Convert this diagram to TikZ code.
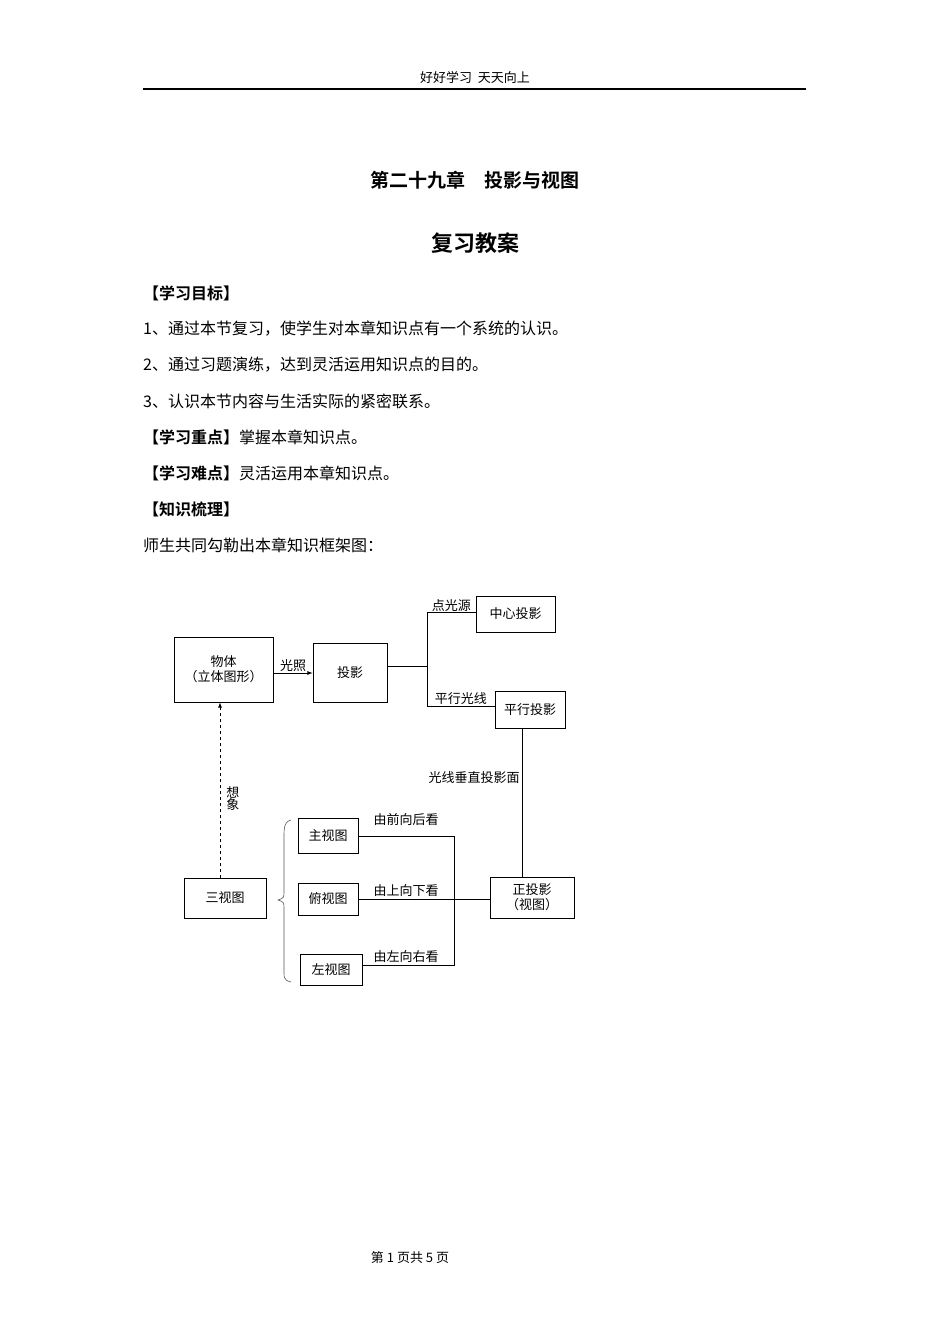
\documentclass[tikz,border=0pt]{standalone}
\usepackage{fontspec}
\setmainfont{Noto Sans CJK SC}
\newfontfamily\cjkb{Noto Sans CJK SC Bold}
\begin{document}
\begin{tikzpicture}[x=1pt,y=-1pt,
  bx/.style={draw,line width=0.8pt,inner sep=0pt},
  dt/.style={font=\fontsize{13}{15}\selectfont},
  ln/.style={line width=0.8pt},
  body/.style={anchor=west,font=\fontsize{16}{18}\selectfont,inner sep=0pt}]
\useasboundingbox[fill=white] (0,0) rectangle (950,1344);
\node[font=\fontsize{13}{15}\selectfont] (hd) at (475,78) {好好学习\ \ 天天向上};
\draw[line width=1.2pt] (143,89) coordinate (h1) -- (806,89) coordinate (h2);
\node[font=\cjkb\fontsize{19}{21}\selectfont] (t1) at (475,180) {第二十九章\quad 投影与视图};
\node[font=\cjkb\fontsize{22}{24}\selectfont] (t2) at (475,243) {复习教案};
\node[body,font=\cjkb\fontsize{16}{18}\selectfont] (l1) at (143,293) {【学习目标】};
\node[body] (l2) at (143,329) {1、通过本节复习，使学生对本章知识点有一个系统的认识。};
\node[body] (l3) at (143,365) {2、通过习题演练，达到灵活运用知识点的目的。};
\node[body] (l4) at (143,401) {3、认识本节内容与生活实际的紧密联系。};
\node[body] (l5) at (143,437) {{\cjkb 【学习重点】}掌握本章知识点。};
\node[body] (l6) at (143,473) {{\cjkb 【学习难点】}灵活运用本章知识点。};
\node[body,font=\cjkb\fontsize{16}{18}\selectfont] (l7) at (143,509) {【知识梳理】};
\node[body] (l8) at (143,545) {师生共同勾勒出本章知识框架图：};
% diagram
\node[bx,dt,minimum width=99pt,minimum height=65pt,align=center] (wt) at (223.5,669.5) {物体\\（立体图形）};
\node[bx,dt,minimum width=74pt,minimum height=59pt] (ty) at (350,672.5) {投影};
\node[bx,dt,minimum width=79pt,minimum height=36pt] (zx) at (515.5,614) {中心投影};
\node[bx,dt,minimum width=70pt,minimum height=37pt] (px) at (530,709.5) {\raisebox{-6pt}{平行投影}};
\node[bx,dt,minimum width=84pt,minimum height=41pt,align=center] (zt) at (532,897.5) {正投影\\（视图）};
\node[bx,dt,minimum width=82pt,minimum height=40pt] (sv) at (225,898) {三视图};
\node[bx,dt,minimum width=60pt,minimum height=35pt] (zs) at (328,835.5) {主视图};
\node[bx,dt,minimum width=60pt,minimum height=32pt] (fs) at (328,899) {俯视图};
\node[bx,dt,minimum width=62pt,minimum height=31pt] (zz) at (331,969.5) {左视图};
\draw[ln,-latex] (wt.east |- 0,673) -- (ty.west |- 0,673) node[midway,above,dt,inner sep=1pt] {光照};
\coordinate (j) at (427,666);
\draw[ln] (ty.east |- j) -- (j);
\draw[ln] (427,612) coordinate (ja) -- (427,706) coordinate (jb);
\draw[ln] (ja) -- (zx.west |- ja) node[midway,above,dt,inner sep=0pt] {点光源};
\draw[ln] (jb) -- (px.west |- jb) node[midway,above,dt,inner sep=1pt] {平行光线};
\draw[ln] (px.south -| 522,0) -- (zt.north -| 522,0) node[pos=0.33,left,dt,inner sep=2pt] {光线垂直投影面};
\draw[ln,dashed,-latex] (sv.north -| 220,0) -- (wt.south -| 220,0) node[pos=0.45,right,dt,align=center,inner sep=6pt] {想\\[-3pt]象};
\draw[line width=0.6pt,gray!70!black] (291,820) .. controls (283,822) and (284,830) .. (284,845) -- (284,890) .. controls (284,898) .. (278,900) .. controls (284,902) .. (284,910) -- (284,965) .. controls (284,978) and (283,980) .. (291,982);
\coordinate (v1) at (454,836);
\coordinate (v2) at (454,965);
\draw[ln] (zs.east |- v1) -- (v1) -- (v2) -- (zz.east |- v2);
\draw[ln] (fs.east) -- (zt.west |- fs.east);
\node[dt] (a1) at (406,820) {由前向后看};
\node[dt] (a2) at (406,891) {由上向下看};
\node[dt] (a3) at (406,957) {由左向右看};
\node[font=\fontsize{13}{15}\selectfont] (ft) at (410,1258) {第 1 页共 5 页};
\end{tikzpicture}
\end{document}
